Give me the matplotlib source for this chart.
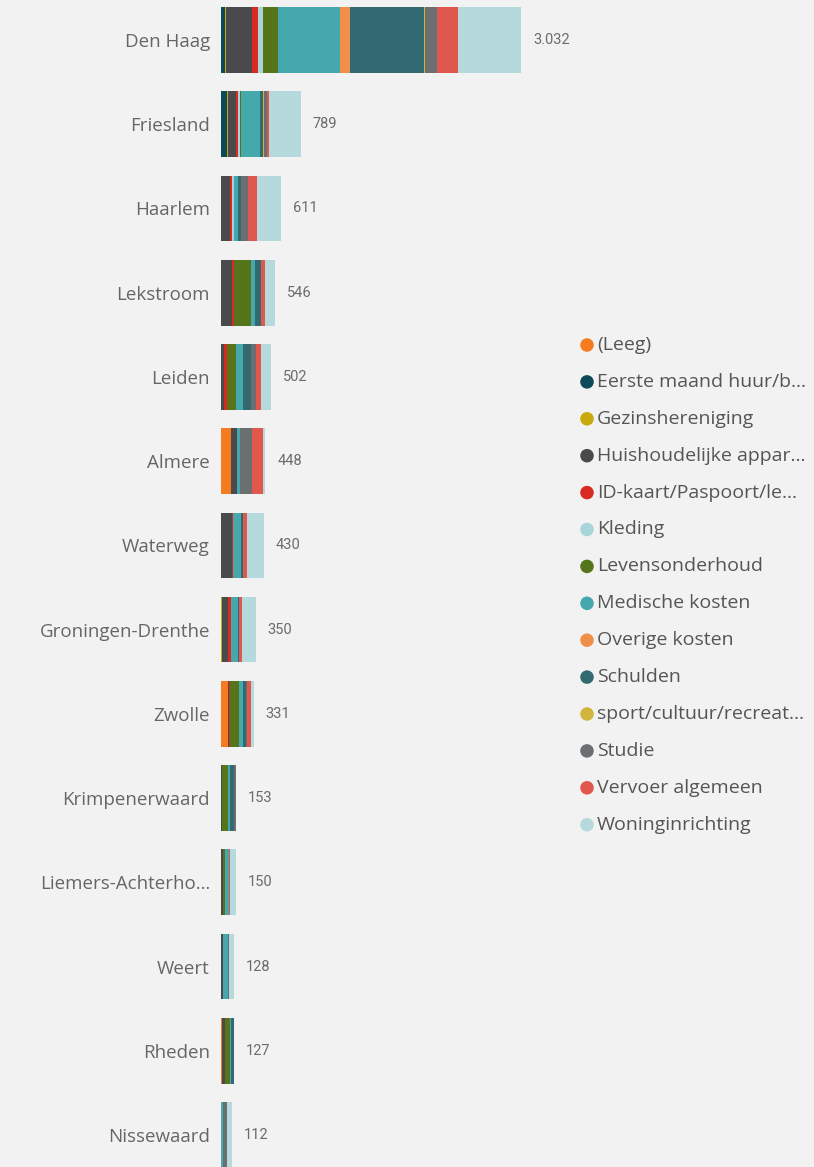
import matplotlib
matplotlib.use("Agg")
import matplotlib.pyplot as plt
import numpy as np

regions = ["Den Haag", "Friesland", "Haarlem", "Lekstroom", "Leiden", "Almere",
           "Waterweg", "Groningen-Drenthe", "Zwolle", "Krimpenerwaard",
           "Liemers-Achterho…", "Weert", "Rheden", "Nissewaard"]
totals_label = ["3.032", "789", "611", "546", "502", "448", "430", "350", "331",
                "153", "150", "128", "127", "112"]

categories = ["(Leeg)", "Eerste maand huur/b…", "Gezinshereniging",
              "Huishoudelijke appar…", "ID-kaart/Paspoort/le…", "Kleding",
              "Levensonderhoud", "Medische kosten", "Overige kosten", "Schulden",
              "sport/cultuur/recreat…", "Studie", "Vervoer algemeen",
              "Woninginrichting"]
colors = ["#F47B20", "#0D4A58", "#C9A90C", "#4A4A4C", "#D82A20", "#A9D4DA",
          "#56751B", "#45A8AD", "#F08F4A", "#336A72", "#D3B53E", "#6C6F71",
          "#E0574E", "#B6D9DE"]

# values per category (columns = regions)
leeg      = [0,   0,   0,   0,   0,   105, 0,   0,   67, 0,  0,  0,  13, 0]
eerste    = [40,  57,  0,   0,   0,   0,   0,   0,   0,  0,  0,  0,  0,  0]
gezins    = [10,  10,  0,   0,   0,   0,   0,   13,  0,  0,  0,  0,  0,  0]
huishoud  = [260, 80,  90,  113, 33,  52,  107, 60,  15, 13, 20, 23, 27, 0]
idkaart   = [60,  27,  17,  17,  23,  0,   15,  27,  8,  0,  0,  0,  0,  0]
kleding   = [57,  15,  23,  0,   0,   0,   0,   0,   0,  0,  0,  0,  0,  0]
levens    = [150, 15,  0,   177, 100, 0,   0,   0,   90, 60, 25, 0,  50, 0]
medische  = [620, 190, 37,  40,  67,  30,  83,  73,  43, 17, 35, 43, 10, 23]
overige   = [110, 0,   0,   0,   0,   0,   0,   0,   0,  0,  0,  0,  0,  0]
schulden  = [740, 33,  33,  60,  77,  0,   15,  10,  33, 43, 0,  0,  27, 0]
sport     = [13,  10,  0,   0,   0,   0,   0,   0,   0,  0,  0,  0,  0,  0]
studie    = [120, 23,  73,  0,   57,  125, 0,   0,   10, 15, 0,  17, 0,  33]
vervoer   = [217, 27,  90,  33,  50,  115, 40,  33,  40, 0,  15, 0,  0,  0]
woning    = [635, 317, 248, 106, 95,  21,  170, 134, 25, 5,  55, 45, 0,  56]

series = [leeg, eerste, gezins, huishoud, idkaart, kleding, levens, medische,
          overige, schulden, sport, studie, vervoer, woning]

W, H = 814, 1167
bg = "#F2F2F2"
fig = plt.figure(figsize=(W / 100, H / 100), dpi=100, facecolor=bg)
ax = fig.add_axes([221 / W, 0, 339 / W, 1])
ax.set_facecolor(bg)

y = np.arange(len(regions))
left = np.zeros(len(regions))
for vals, col in zip(series, colors):
    v = np.array(vals, dtype=float)
    ax.barh(y, v, left=left, height=0.78, color=col, edgecolor="none")
    left += v

for yi, tot, lab in zip(y, left, totals_label):
    ax.text(tot + 120, yi, lab, va="center", ha="left", fontsize=10.5,
            color="#6b6b6b", family="Roboto")

ax.set_xlim(0, 3424)
ax.set_ylim(13.38, -0.475)
ax.set_yticks(y)
ax.set_yticklabels(regions, fontsize=13.5, color="#666666", family="Open Sans")
ax.tick_params(axis="y", length=0, pad=8)
ax.set_xticks([])
for s in ax.spines.values():
    s.set_visible(False)

# legend drawn in pixel coordinates
lax = fig.add_axes([0, 0, 1, 1])
lax.set_xlim(0, W)
lax.set_ylim(H, 0)
lax.axis("off")
for i, (lab, col) in enumerate(zip(categories, colors)):
    yy = 345 + i * 36.9
    lax.scatter([587], [yy], s=95, color=col, edgecolors="none")
    lax.text(597, yy, lab, va="center", ha="left", fontsize=14,
             color="#555555", family="Open Sans")

fig.savefig("out.png", dpi=100, facecolor=bg)
